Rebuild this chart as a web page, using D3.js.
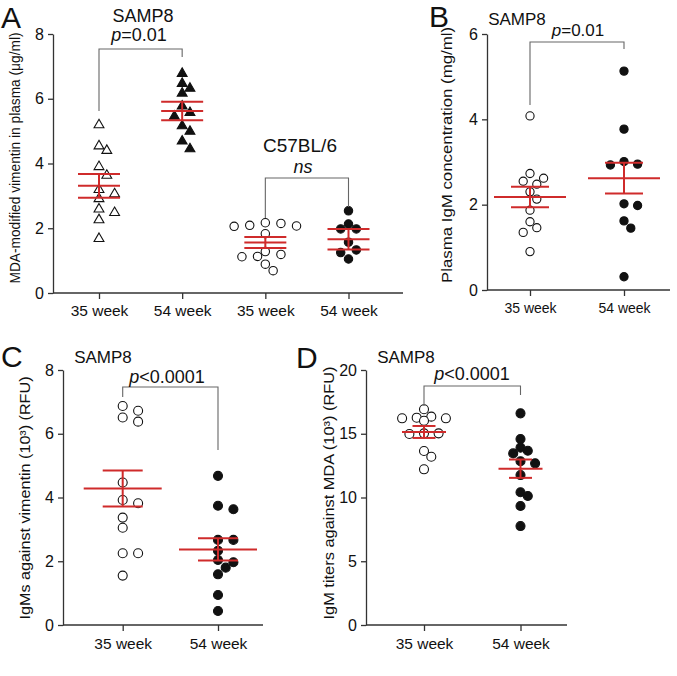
<!DOCTYPE html>
<html><head><meta charset="utf-8">
<script src="https://cdn.jsdelivr.net/npm/d3@7"></script>
<style>
body{margin:0;background:#fff}
text{font-family:"Liberation Sans",Arial,Helvetica,sans-serif;fill:#111}
</style>
</head><body>
<svg id="chart" width="677" height="676"></svg>
<script>
// ---------------- DATA ----------------
// Panel A: MDA-modified vimentin in plasma (µg/ml)
const aCategories = ["35 week", "54 week", "35 week", "54 week"];
const aTicks = [0, 2, 4, 6, 8];
const aSamp8W35 = [5.19, 4.54, 4.40, 3.90, 3.63, 3.19, 3.06, 2.91, 2.59, 2.48, 2.26, 1.68];
const aSamp8W54 = [6.78, 6.47, 6.32, 6.17, 5.77, 5.57, 5.46, 5.16, 4.99, 4.69, 4.45];
const aC57W35 = [2.17, 2.15, 2.09, 2.07, 2.06, 1.83, 1.28, 1.19, 1.13, 1.12, 0.89, 0.69];
const aC57W54 = [2.54, 2.13, 1.98, 1.98, 1.57, 1.33, 1.25, 1.05];
const aMeans = [3.31, 5.62, 1.56, 1.66];
const aSems = [0.365, 0.285, 0.17, 0.32];

// Panel B: Plasma IgM concentration (mg/ml)
const bCategories = ["35 week", "54 week"];
const bTicks = [0, 2, 4, 6];
const bW35 = [4.08, 2.73, 2.62, 2.55, 2.48, 2.30, 2.13, 1.87, 1.60, 1.46, 1.35, 0.90];
const bW54 = [5.13, 3.77, 3.01, 2.95, 2.93, 2.02, 1.98, 1.62, 1.45, 0.31];
const bMeans = [2.18, 2.62];
const bSems = [0.24, 0.36];

// Panel C: IgMs against vimentin (10^3) (RFU)
const cCategories = ["35 week", "54 week"];
const cTicks = [0, 2, 4, 6, 8];
const cW35 = [6.87, 6.72, 6.51, 6.38, 4.47, 3.92, 3.82, 3.37, 3.05, 2.25, 2.25, 1.55];
const cW54 = [4.68, 3.74, 3.63, 2.67, 2.67, 2.33, 2.04, 1.97, 1.80, 1.59, 0.94, 0.44];
const cMeans = [4.28, 2.37];
const cSems = [0.565, 0.35];

// Panel D: IgM titers against MDA (10^3) (RFU)
const dCategories = ["35 week", "54 week"];
const dTicks = [0, 5, 10, 15, 20];
const dW35 = [16.92, 16.34, 16.26, 16.21, 16.21, 16.02, 15.03, 15.03, 14.98, 13.65, 13.20, 12.21];
const dW54 = [16.60, 14.59, 13.91, 13.67, 13.46, 12.84, 12.68, 11.76, 10.41, 10.12, 9.33, 7.76];
const dMeans = [15.14, 12.26];
const dSems = [0.47, 0.72];

// ---------------- DRAWING ----------------
const svg = d3.select("#chart");
const RED = "#cf2b2b";
const AXIS = "#333";

function beeswarm(ys, step, dist) {
  const idx = ys.map((y, i) => i).sort((a, b) => ys[a] - ys[b]);
  const placed = [];
  const off = new Array(ys.length).fill(0);
  for (const i of idx) {
    const y = ys[i];
    for (let k = 0; k < 60; k++) {
      const m = k === 0 ? 0 : (k % 2 === 1 ? Math.ceil(k / 2) : -k / 2);
      const x = m * step;
      if (placed.every(p => (p.x - x) ** 2 + (p.y - y) ** 2 >= dist * dist)) {
        placed.push({x, y}); off[i] = x; break;
      }
    }
  }
  return off;
}

function pText(g, x, y, italic, rest, size) {
  const t = g.append("text").attr("x", x).attr("y", y)
    .attr("text-anchor", "middle").style("font-size", size + "px");
  t.append("tspan").style("font-style", "italic").text(italic);
  if (rest) t.append("tspan").text(rest);
  return t;
}

function panel(cfg) {
  const g = svg.append("g");
  const y = d3.scaleLinear().domain(cfg.domain).range([cfg.yBottom, cfg.yTop]);
  const x = d3.scalePoint().domain(d3.range(cfg.categories.length)).range(cfg.catRange);

  // y axis
  const ya = g.append("g").attr("transform", `translate(${cfg.x0},0)`)
    .call(d3.axisLeft(y).tickValues(cfg.ticks).tickFormat(d3.format("d"))
      .tickSize(5).tickSizeOuter(0).tickPadding(4));
  ya.select(".domain").attr("stroke", AXIS).attr("stroke-width", 1.3);
  ya.selectAll(".tick line").attr("stroke", AXIS).attr("stroke-width", 1.3);
  ya.selectAll(".tick text").style("font-size", cfg.tickFont + "px")
    .style("font-family", '"Liberation Sans",Arial,sans-serif').attr("fill", "#111");

  // x axis
  g.append("line").attr("x1", cfg.x0).attr("x2", cfg.x1)
    .attr("y1", cfg.yBottom).attr("y2", cfg.yBottom)
    .attr("stroke", AXIS).attr("stroke-width", 1.3);
  const xa = g.append("g").attr("transform", `translate(0,${cfg.yBottom})`)
    .call(d3.axisBottom(x).tickSize(6).tickPadding(cfg.xPad).tickFormat(i => cfg.categories[i]));
  xa.select(".domain").remove();
  xa.selectAll(".tick line").attr("stroke", AXIS).attr("stroke-width", 1.3);
  xa.selectAll(".tick text").style("font-size", cfg.xFont + "px")
    .style("font-family", '"Liberation Sans",Arial,sans-serif').attr("fill", "#111");

  // y label
  g.append("text")
    .attr("transform", `translate(${cfg.labelX},${cfg.labelY}) rotate(-90)`)
    .attr("text-anchor", "middle")
    .attr("textLength", cfg.labelLen).attr("lengthAdjust", "spacingAndGlyphs")
    .style("font-size", cfg.labelFont + "px")
    .text(cfg.yLabel);

  // points
  cfg.groups.forEach((grp, gi) => {
    const cx = x(gi);
    const ys = grp.values.map(v => y(v));
    const offs = beeswarm(ys, cfg.step, cfg.dist);
    grp.values.forEach((v, i) => {
      if (grp.shape === "triangle") {
        g.append("path")
          .attr("d", d3.symbol(d3.symbolTriangle, cfg.triArea)())
          .attr("transform", `translate(${cx + offs[i]},${ys[i]})`)
          .attr("fill", grp.filled ? "#111" : "#fff")
          .attr("stroke", "#111").attr("stroke-width", 1.1);
      } else {
        g.append("circle").attr("cx", cx + offs[i]).attr("cy", ys[i]).attr("r", cfg.r)
          .attr("fill", grp.filled ? "#111" : "#fff")
          .attr("stroke", "#111").attr("stroke-width", 1.1);
      }
    });
  });

  // mean +/- SEM
  cfg.means.forEach((m, gi) => {
    const cx = x(gi), s = cfg.sems[gi];
    const eb = g.append("g").attr("stroke", RED).attr("stroke-width", 2);
    eb.append("line").attr("x1", cx - cfg.meanW / 2).attr("x2", cx + cfg.meanW / 2)
      .attr("y1", y(m)).attr("y2", y(m));
    [m + s, m - s].forEach(v => eb.append("line")
      .attr("x1", cx - cfg.capW / 2).attr("x2", cx + cfg.capW / 2)
      .attr("y1", y(v)).attr("y2", y(v)));
    eb.append("line").attr("x1", cx).attr("x2", cx).attr("y1", y(m + s)).attr("y2", y(m - s));
  });

  // brackets
  (cfg.brackets || []).forEach(b => {
    const xl = x(b.from), xr = x(b.to);
    g.append("path")
      .attr("d", `M${xl},${b.leftEnd}V${b.y}H${xr}V${b.rightEnd}`)
      .attr("fill", "none").attr("stroke", "#666").attr("stroke-width", 1.1);
  });
  return {g, x, y};
}

function letter(t, x, yb) {
  svg.append("text").attr("x", x).attr("y", yb).style("font-size", "30px").text(t);
}
function plain(t, x, yb, size, italic) {
  svg.append("text").attr("x", x).attr("y", yb).attr("text-anchor", "middle")
    .style("font-size", size + "px").style("font-style", italic ? "italic" : "normal").text(t);
}

// Panel A
panel({
  x0: 53, x1: 403, yTop: 34, yBottom: 293, domain: [0, 8], ticks: aTicks,
  categories: aCategories, catRange: [99, 348.5],
  tickFont: 16, xFont: 15.5, xPad: 6,
  yLabel: "MDA-modified vimentin in plasma (\u03BCg/ml)", labelX: 20, labelY: 158, labelLen: 251, labelFont: 14,
  groups: [
    {values: aSamp8W35, shape: "triangle", filled: false},
    {values: aSamp8W54, shape: "triangle", filled: true},
    {values: aC57W35, shape: "circle", filled: false},
    {values: aC57W54, shape: "circle", filled: true}
  ],
  means: aMeans, sems: aSems, meanW: 42, capW: 42,
  step: 7.8, dist: 9, r: 4.2, triArea: 42,
  brackets: [
    {from: 0, to: 1, y: 49, leftEnd: 111, rightEnd: 57},
    {from: 2, to: 3, y: 178, leftEnd: 218, rightEnd: 207}
  ]
});
letter("A", 1, 28);
plain("SAMP8", 143, 22, 18);
pText(svg, 139, 41, "p", "=0.01", 18);
plain("C57BL/6", 300, 152, 19);
plain("ns", 303, 173, 18, true);

// Panel B
panel({
  x0: 487, x1: 670, yTop: 34, yBottom: 290, domain: [0, 6], ticks: bTicks,
  categories: bCategories, catRange: [530, 624],
  tickFont: 16, xFont: 14, xPad: 7,
  yLabel: "Plasma IgM concentration (mg/ml)", labelX: 452, labelY: 155, labelLen: 256, labelFont: 14,
  groups: [
    {values: bW35, shape: "circle", filled: false},
    {values: bW54, shape: "circle", filled: true}
  ],
  means: bMeans, sems: bSems, meanW: 72, capW: 38,
  step: 6.8, dist: 8.6, r: 4.1,
  brackets: [{from: 0, to: 1, y: 42, leftEnd: 105, rightEnd: 49}]
});
letter("B", 429, 27);
plain("SAMP8", 517, 25, 17);
pText(svg, 578, 36, "p", "=0.01", 17);

// Panel C
panel({
  x0: 63, x1: 263, yTop: 370, yBottom: 625, domain: [0, 8], ticks: cTicks,
  categories: cCategories, catRange: [122.7, 218],
  tickFont: 16, xFont: 15.5, xPad: 7,
  yLabel: "IgMs against vimentin (10\u00B3) (RFU)", labelX: 30, labelY: 498, labelLen: 243, labelFont: 14,
  groups: [
    {values: cW35, shape: "circle", filled: false},
    {values: cW54, shape: "circle", filled: true}
  ],
  means: cMeans, sems: cSems, meanW: 78, capW: 40,
  step: 7.7, dist: 9.2, r: 4.5,
  brackets: [{from: 0, to: 1, y: 387, leftEnd: 397, rightEnd: 450}]
});
letter("C", 1, 367);
plain("SAMP8", 103, 363, 17);
pText(svg, 167, 383, "p", "<0.0001", 18);

// Panel D
panel({
  x0: 366, x1: 567, yTop: 370, yBottom: 625, domain: [0, 20], ticks: dTicks,
  categories: dCategories, catRange: [424, 520.5],
  tickFont: 16, xFont: 15.5, xPad: 7,
  yLabel: "IgM titers against MDA (10\u00B3) (RFU)", labelX: 334, labelY: 493, labelLen: 253, labelFont: 14,
  groups: [
    {values: dW35, shape: "circle", filled: false},
    {values: dW54, shape: "circle", filled: true}
  ],
  means: dMeans, sems: dSems, meanW: 44, capW: 23,
  step: 7.3, dist: 7.6, r: 4.5,
  brackets: [{from: 0, to: 1, y: 386, leftEnd: 406, rightEnd: 395}]
});
letter("D", 296, 368);
plain("SAMP8", 406, 363, 17);
pText(svg, 472, 380, "p", "<0.0001", 18);
</script>
</body></html>
